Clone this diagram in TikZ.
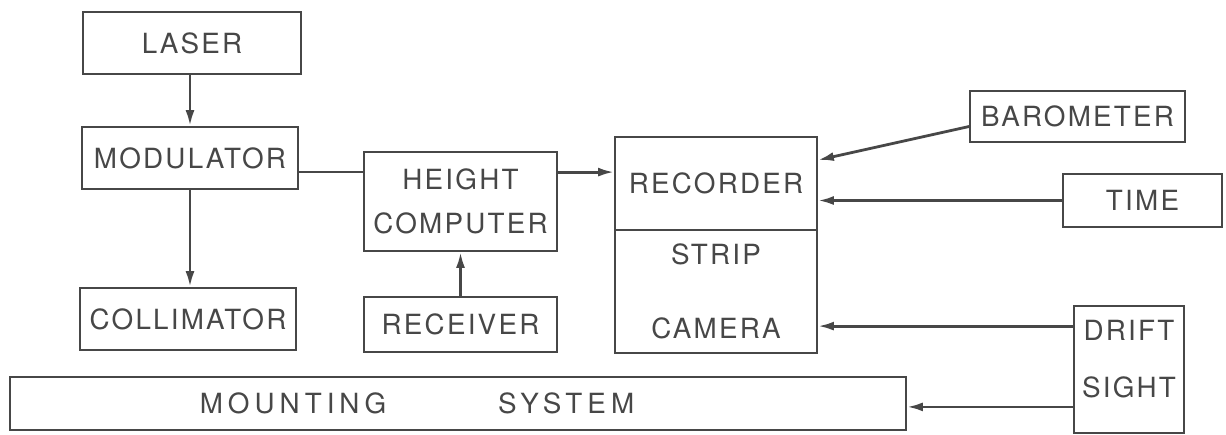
\documentclass[tikz,border=0pt]{standalone}
\usepackage{fontspec}
\setmainfont{TeX Gyre Heros}[LetterSpace=8]
\usetikzlibrary{arrows.meta}
\definecolor{ink}{gray}{0.28}

\begin{document}
\begin{tikzpicture}[x=0.5pt, y=-0.5pt, line width=0.9pt, color=ink,
        font=\fontsize{13.9}{22}\selectfont,
        box/.style={draw, rectangle, inner sep=0pt, align=center},
        link/.style={line width=1.4pt},
        feed/.style={link, -{Latex[length=8pt, width=4.5pt]}}]
            \useasboundingbox (0,0) rectangle (1226,434);

            % draw left column
            \node[box, minimum width=109pt, minimum height=31pt] (laser)      at (192,43)  {LASER};
            \node[box, minimum width=108pt, minimum height=31pt] (modulator)  at (190,158) {MODULATOR};
            \node[box, minimum width=108pt, minimum height=31pt] (collimator) at (188,319) {COLLIMATOR};

            % draw computer and receiver
            \node[box, minimum width=96.5pt, minimum height=49.5pt] (height)   at (460.5,201.5) {HEIGHT\\COMPUTER};
            \node[box, minimum width=96.5pt, minimum height=27.5pt] (receiver) at (460.5,324.5) {RECEIVER};

            % draw recorder over strip camera
            \node[box, minimum width=101pt, minimum height=46.5pt] (recorder) at (716,183.5) {RECORDER};
            \node[box, minimum width=101pt, minimum height=61.5pt] (camera)   at (716,291.5) {STRIP\\[15pt]CAMERA};

            % draw inputs on the right
            \node[box, minimum width=107.5pt, minimum height=25.5pt] (barometer) at (1077.5,116.5) {BAROMETER};
            \node[box, minimum width=79.5pt,  minimum height=26.5pt] (time)      at (1142.5,200.5) {TIME};
            \node[box, minimum width=55pt, minimum height=63.5pt, text depth=11pt] (drift) at (1129,369.5) {DRIFT\\[6.5pt]SIGHT};

            % draw mounting system
            \node[box, minimum width=448pt, minimum height=26.5pt] (mounting) at (458,403.5) {};
            \node[font=\fontsize{13.9}{22}\selectfont\addfontfeature{LetterSpace=18}] (mountlabel) at (417,403.5) {MOUNTING\hspace{56pt}SYSTEM};

            % draw connectors
            \draw[feed] (laser.south -| modulator) -- (modulator.north);
            \draw[feed] (modulator.south) -- (modulator.south |- collimator.north);
            \draw[link] ([yshift=-7pt]modulator.east) -- ([yshift=-7pt]modulator.east -| height.west);
            \draw[feed] ([yshift=-10.5pt]height.north east) -- ([yshift=-10.5pt]height.north east -| recorder.west);
            \draw[feed] (receiver.north) -- (height.south);
            \draw[feed] ([yshift=-5pt]barometer.west) -- ([yshift=-12pt]recorder.north east);
            \draw[feed] (time.west) -- (time.west -| recorder.east);
            \draw[feed] ([yshift=-10.5pt]drift.north west) -- ([yshift=-10.5pt]drift.north west -| camera.east);
            \draw[feed] ([yshift=13.5pt]drift.south west) -- ([yshift=13.5pt]drift.south west -| mounting.east);
        \end{tikzpicture}
\end{document}
